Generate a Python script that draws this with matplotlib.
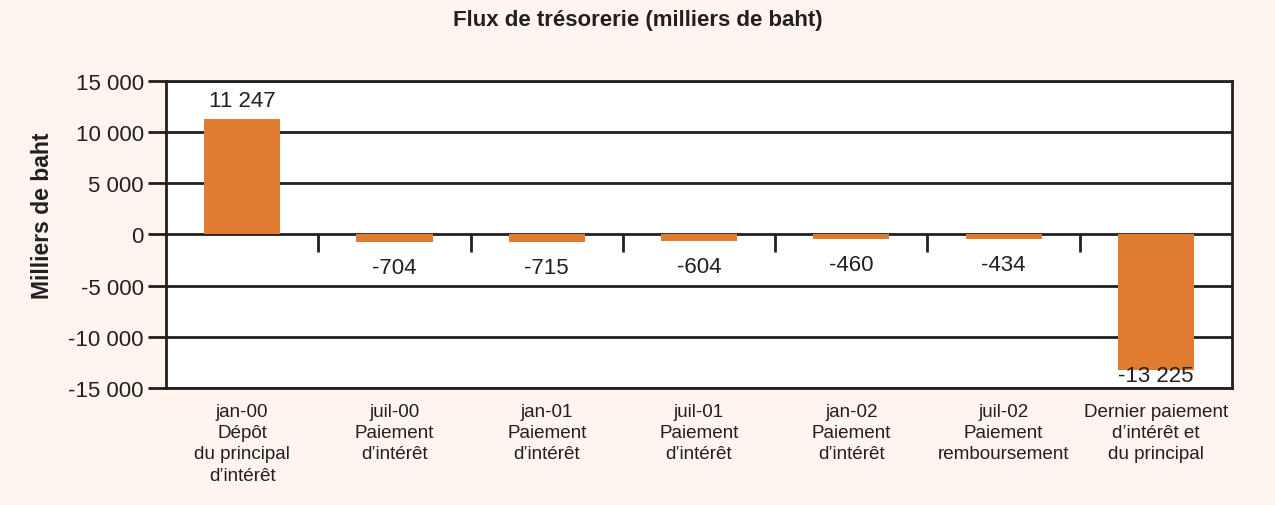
import numpy as np
import matplotlib.pyplot as plt

plt.rcParams['font.family'] = ['Liberation Sans', 'DejaVu Sans']

# data
dates = ['jan-00', 'juil-00', 'jan-01', 'juil-01', 'jan-02', 'juil-02', '']
kinds = ['Dépôt\ndu principal\nd\u2019intérêt', 'Paiement\nd\u2019intérêt', 'Paiement\nd\u2019intérêt',
         'Paiement\nd\u2019intérêt', 'Paiement\nd\u2019intérêt', 'Paiement\nremboursement',
         'Dernier paiement\nd\u2019intérêt et\ndu principal']
flows = [11247, -704, -715, -604, -460, -434, -13225]
yticks = [-15000, -10000, -5000, 0, 5000, 10000, 15000]

bg = '#fdf5ee'
orange = '#e07c32'
dark = '#231f20'

def fmt(v):
    s = f'{abs(v):,}'.replace(',', ' ')
    return ('-' if v < 0 else '') + s

fig = plt.figure(figsize=(12.75, 5.06), dpi=100, facecolor=bg)
ax = fig.add_axes([0.1302, 0.2312, 0.8361, 0.6068])
ax.set_facecolor('white')

x = np.arange(len(flows))
ax.bar(x, flows, width=0.5, color=orange, zorder=3)

for xi, v in zip(x, flows):
    if v >= 0:
        ax.text(xi, v + 1800, fmt(v), ha='center', va='center', fontsize=16, color=dark, zorder=4)
    else:
        # keep the label inside the frame for the long bar
        ax.text(xi, max(v - 2500, -13800), fmt(v), ha='center', va='center', fontsize=16,
                color=dark, zorder=4)

ax.set_xlim(-0.5, len(flows) - 0.5)
ax.set_ylim(-15000, 15000)
ax.set_yticks(yticks)
ax.set_yticklabels([fmt(t) for t in yticks], fontsize=16, color=dark)
ax.yaxis.grid(True, color=dark, linewidth=2, zorder=1)
ax.set_axisbelow(True)
ax.tick_params(axis='y', length=13, width=2, color=dark, pad=3)

# category separators at the zero line
ax.vlines(x[:-1] + 0.5, -1700, 0, color=dark, linewidth=2, zorder=2)

labels = [(d + '\n' + k) if d else k for d, k in zip(dates, kinds)]
ax.set_xticks(x)
ax.set_xticklabels(labels, fontsize=13.6, color=dark, linespacing=1.34, va='top')
ax.tick_params(axis='x', length=0, pad=10.5)

for s in ax.spines.values():
    s.set_color(dark)
    s.set_linewidth(2)

ax.set_ylabel('Milliers de baht', fontsize=16.5, fontweight='bold', color=dark)
ax.yaxis.set_label_coords(-0.105, 0.563)
fig.text(0.5, 0.96, 'Flux de trésorerie (milliers de baht)', ha='center', va='center',
         fontsize=16, fontweight='bold', color=dark)

fig.savefig('out.png', dpi=100, facecolor=bg)
